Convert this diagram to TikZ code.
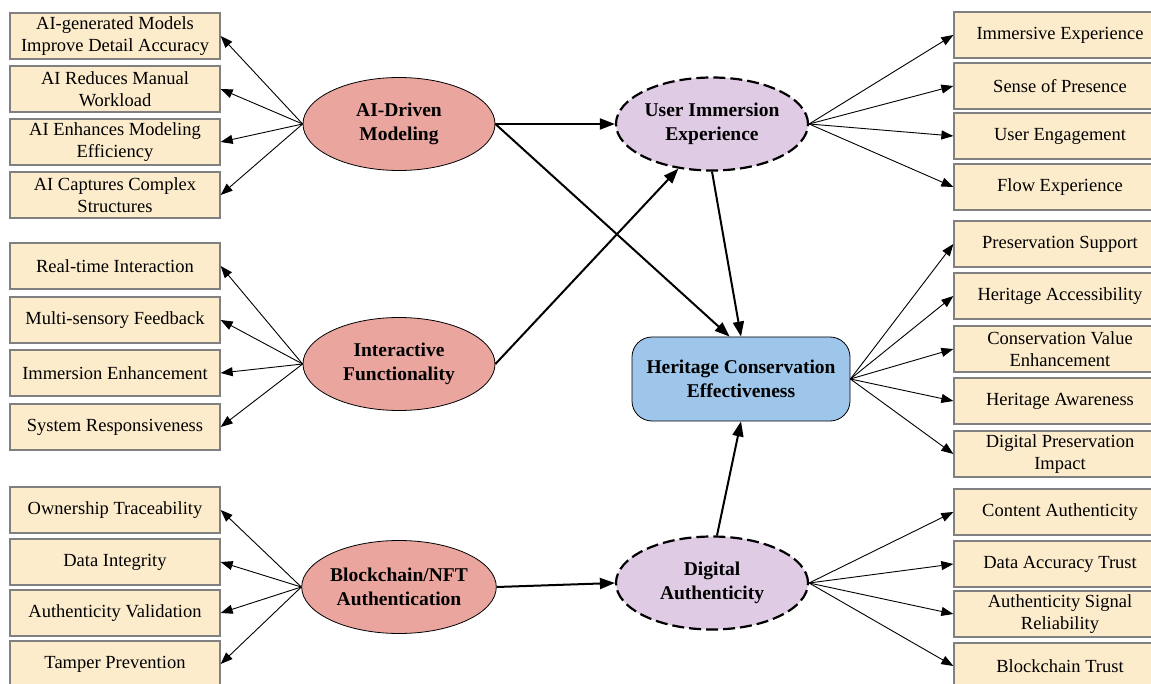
\documentclass[tikz,border=0pt]{standalone}
\usepackage{fontspec}
\setmainfont{Liberation Serif}
\usetikzlibrary{arrows.meta,shapes.geometric}
\definecolor{boxfill}{RGB}{252,236,204}
\definecolor{boxline}{RGB}{128,128,128}
\definecolor{salmon}{RGB}{234,166,158}
\definecolor{lavender}{RGB}{223,203,228}
\definecolor{skyblue}{RGB}{157,198,234}

\begin{document}
\begin{tikzpicture}[x=1pt,y=-1pt,
  item/.style={draw=boxline,line width=1.3pt,fill=boxfill,minimum width=210pt,
    minimum height=46pt,inner sep=0pt,align=center,font=\fontsize{18.5}{22}\selectfont},
  construct/.style={ellipse,draw,line width=0.8pt,fill=salmon,minimum width=192pt,
    minimum height=93pt,inner sep=0pt,align=center,font=\fontsize{19.5}{24}\selectfont\bfseries},
  mediator/.style={construct,fill=lavender,line width=2.2pt,dash pattern=on 12pt off 5pt},
  outcome/.style={draw,line width=0.8pt,fill=skyblue,rounded corners=20pt,minimum width=218pt,
    minimum height=84pt,inner sep=0pt,align=center,font=\fontsize{19.5}{24}\selectfont\bfseries},
  load/.style={-{Triangle[length=12pt,width=9pt]},line width=0.9pt},
  effect/.style={-{Triangle[length=15pt,width=11pt]},line width=2pt}]
  \useasboundingbox (0,0) rectangle (1151,684);

  % latent constructs
  \node[construct] (ai) at (399,124) {AI-Driven\\Modeling};
  \node[construct] (int) at (399,364) {Interactive\\Functionality};
  \node[construct] (bc) at (399,587) {Blockchain/NFT\\Authentication};
  \node[mediator] (uie) at (712,124) {User Immersion\\Experience};
  \node[mediator] (da) at (712,583) {Digital\\Authenticity};
  \node[outcome] (hce) at (741,379) {Heritage Conservation\\Effectiveness};

  % indicators, left side
  \foreach \i/\y/\t in {1/36/{AI-generated Models\\Improve Detail Accuracy},
    2/89/{AI Reduces Manual\\Workload},3/142/{AI Enhances Modeling\\Efficiency},
    4/195/{AI Captures Complex\\Structures}}
  \node[item] (a\i) at (115,\y) {\t};
  \foreach \i/\y/\t in {1/266/{Real-time Interaction},2/320/{Multi-sensory Feedback},
    3/373/{Immersion Enhancement},4/427/{System Responsiveness}}
  \node[item] (f\i) at (115,\y) {\t};
  \foreach \i/\y/\t in {1/510/{Ownership Traceability},2/562/{Data Integrity},
    3/613/{Authenticity Validation},4/664/{Tamper Prevention}}
  \node[item] (b\i) at (115,\y) {\t};

  % indicators, right side
  \foreach \i/\y/\t in {1/35/{Immersive Experience},2/86/{Sense of Presence},
    3/136/{User Engagement},4/187/{Flow Experience}}
  \node[item,minimum width=212pt] (u\i) at (1060,\y) {\t};
  \foreach \i/\y/\t in {1/244/{Preservation Support},2/296/{Heritage Accessibility},
    3/349/{Conservation Value\\Enhancement},4/401/{Heritage Awareness},
    5/454/{Digital Preservation\\Impact}}
  \node[item,minimum width=212pt] (h\i) at (1060,\y) {\t};
  \foreach \i/\y/\t in {1/512/{Content Authenticity},2/564/{Data Accuracy Trust},
    3/614/{Authenticity Signal\\Reliability},4/666/{Blockchain Trust}}
  \node[item,minimum width=212pt] (d\i) at (1060,\y) {\t};

  % loadings
  \foreach \i in {1,...,4} \draw[load] (ai.west) -- (a\i.east);
  \foreach \i in {1,...,4} \draw[load] (int.west) -- (f\i.east);
  \foreach \i in {1,...,4} \draw[load] (bc.west) -- (b\i.east);
  \foreach \i in {1,...,4} \draw[load] (uie.east) -- (u\i.west);
  \foreach \i in {1,...,5} \draw[load] (hce.east) -- (h\i.west);
  \foreach \i in {1,...,4} \draw[load] (da.east) -- (d\i.west);

  % structural paths
  \draw[effect] (ai.east) -- (uie.west);
  \draw[effect] (ai.east) -- (hce.105);
  \draw[effect] (int.east) -- (uie.233);
  \draw[effect] (uie.south) -- (hce.north);
  \draw[effect] (bc.east) -- (da.west);
  \draw[effect] (da.84) -- (hce.south);
\end{tikzpicture}
\end{document}
